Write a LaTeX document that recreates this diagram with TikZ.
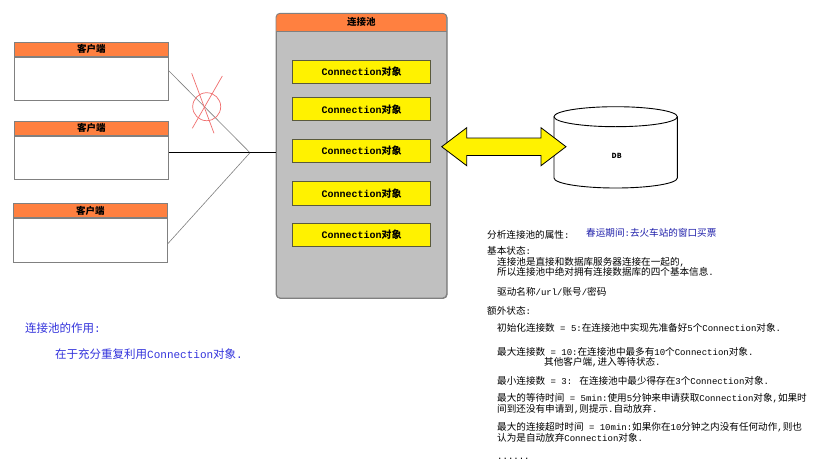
\documentclass[tikz,border=0pt]{standalone}
\usepackage{fontspec}
\setmainfont{Noto Sans CJK SC}
\newfontfamily\monof{Liberation Mono}
\usetikzlibrary{calc}
\definecolor{headorange}{RGB}{255,128,64}
\definecolor{poolgray}{RGB}{192,192,192}
\definecolor{boxborder}{RGB}{128,128,128}
\definecolor{connborder}{RGB}{90,90,60}
\definecolor{xred}{RGB}{240,110,110}
\definecolor{blueA}{RGB}{50,50,220}
\definecolor{blueB}{RGB}{30,30,170}
\tikzset{
  clienthead/.style={draw=boxborder, fill=headorange, line width=0.9pt, minimum width=154pt, minimum height=14pt, anchor=north west, inner sep=0pt, font=\fontsize{9.5}{10}\selectfont\bfseries},
  clientbody/.style={draw=boxborder, fill=white, line width=0.9pt, minimum width=154pt, minimum height=43.4pt, anchor=north west, inner sep=0pt},
  connbox/.style={draw=connborder, fill=yellow, line width=0.8pt, minimum width=138pt, minimum height=23.3pt, inner sep=0pt, font=\fontsize{10}{10}\selectfont\bfseries},
  txt/.style={anchor=west, inner sep=0pt, font=\fontsize{9.6}{10}\selectfont, align=left},
  bigtxt/.style={anchor=west, inner sep=0pt, blueA, font=\fontsize{11.5}{12}\selectfont},
  link/.style={line width=0.6pt}
}
\newcommand{\connlabel}{{\monof\bfseries Connection}对象}
\newcommand{\m}[1]{{\monof\fontsize{9}{10}\selectfont #1}}
\newcommand{\mb}[1]{{\monof\fontsize{11}{12}\selectfont #1}}
\begin{document}
\begin{tikzpicture}[x=1pt,y=-1pt]
\useasboundingbox[fill=white] (0,0) rectangle (821,471);

% clients
\node[clienthead] (h1) at (14,41.7) {客户端};
\node[clientbody] (b1) at (h1.south west) {};
\node[clienthead] (h2) at (14,120.9) {客户端};
\node[clientbody] (b2) at (h2.south west) {};
\node[clienthead] (h3) at (13,203.3) {客户端};
\node[clientbody] (b3) at (h3.south west) {};

% pool
\node[draw=boxborder, fill=poolgray, line width=0.9pt, rounded corners=4pt, minimum width=170.7pt, minimum height=284.7pt, anchor=north west, inner sep=0pt] (pool) at (276,13.3) {};
\begin{scope}
  \clip[rounded corners=4pt] (276,13.3) rectangle (446.7,298);
  \fill[headorange] (276,13.3) rectangle (446.7,31);
\end{scope}
\draw[boxborder, line width=0.9pt, rounded corners=4pt] (276,13.3) rectangle (446.7,298);
\draw[boxborder, line width=0.9pt] (276,31) -- (446.7,31);
\node[inner sep=0pt, font=\fontsize{9.5}{10}\selectfont\bfseries] (pooltitle) at (361.3,22) {连接池};

\node[connbox] (c1) at (361.7,71.7) {\connlabel};
\node[connbox] (c2) at (361.7,109.2) {\connlabel};
\node[connbox] (c3) at (361.7,151) {\connlabel};
\node[connbox] (c4) at (361.7,193.3) {\connlabel};
\node[connbox] (c5) at (361.7,235) {\connlabel};

% links
\coordinate (j) at (250,152.7);
\draw[link, gray] ([yshift=-14.3pt]b1.north east) -- (j);
\draw[link, black] (b2.east |- j) -- (j);
\draw[link, gray] ([yshift=-25.4pt]b3.north east) -- (j);
\draw[link, black] (j) -- (pool.west |- j);

% red cross
\draw[xred, line width=0.7pt] (206.7,106.7) circle[radius=14pt];
\draw[xred, line width=0.7pt] (191.7,73.3) -- (214,133.3);
\draw[xred, line width=0.7pt] (222.3,76) -- (192.3,128.3);

% database cylinder
\fill[white] (554,116.7) -- (554,178) arc[start angle=180, end angle=360, x radius=61.65pt, y radius=10pt] -- (677.3,116.7) -- cycle;
\draw[line width=0.9pt] (554,116.7) -- (554,178) arc[start angle=180, end angle=360, x radius=61.65pt, y radius=10pt] -- (677.3,116.7);
\draw[line width=0.9pt, fill=white] (615.65,116.7) ellipse[x radius=61.65pt, y radius=10pt];
\node[inner sep=0pt, font=\fontsize{7}{8}\selectfont\bfseries] (db) at (616.7,156) {DB};

% double arrow between pool and database
\coordinate (aL) at (441.7,146.7);
\coordinate (aR) at (566,146.7);
\draw[fill=yellow, line width=0.8pt, line join=miter]
  (aL) -- ($(aL)+(25,-19)$) -- ($(aL)+(25,-8.7)$) -- ($(aR)+(-25,-8.7)$) -- ($(aR)+(-25,-19)$)
  -- (aR) -- ($(aR)+(-25,19)$) -- ($(aR)+(-25,8.7)$) -- ($(aL)+(25,8.7)$) -- ($(aL)+(25,19)$) -- cycle;

% left note
\node[bigtxt] (role) at (25,328) {连接池的作用\mb{:}};
\node[bigtxt] (roletext) at (55,354) {在于充分重复利用\mb{Connection}对象\mb{.}};

% right notes
\node[txt] (t1) at (487,235) {分析连接池的属性\m{:}};
\node[txt, blueB] (t2) at (586,233) {春运期间\m{:}去火车站的窗口买票};
\node[txt] (t3) at (487,251) {基本状态\m{:}};
\node[txt] (t4) at (497,262) {连接池是直接和数据库服务器连接在一起的\m{,}};
\node[txt] (t5) at (497,272) {所以连接池中绝对拥有连接数据库的四个基本信息\m{.}};
\node[txt] (t6) at (497,292) {驱动名称\m{/url/}账号\m{/}密码};
\node[txt] (t7) at (487,311) {额外状态\m{:}};
\node[txt] (t8) at (497,328) {初始化连接数\m{ = 5:}在连接池中实现先准备好\m{5}个\m{Connection}对象\m{.}};
\node[txt] (t9) at (497,352) {最大连接数\m{ = 10:}在连接池中最多有\m{10}个\m{Connection}对象\m{.}};
\node[txt] (t10) at (544,362.5) {其他客户端\m{,}进入等待状态\m{.}};
\node[txt] (t11) at (497,381) {最小连接数\m{ = 3: }在连接池中最少得存在\m{3}个\m{Connection}对象\m{.}};
\node[txt] (t12) at (497,398.5) {最大的等待时间\m{ = 5min:}使用\m{5}分钟来申请获取\m{Connection}对象\m{,}如果时};
\node[txt] (t13) at (497,409) {间到还没有申请到\m{,}则提示\m{.}自动放弃\m{.}};
\node[txt] (t14) at (497,427) {最大的连接超时时间\m{ = 10min:}如果你在\m{10}分钟之内没有任何动作\m{,}则也};
\node[txt] (t15) at (497,437.5) {认为是自动放弃\m{Connection}对象\m{.}};
\node[txt] (t16) at (497,459) {\m{......}};
\end{tikzpicture}
\end{document}
